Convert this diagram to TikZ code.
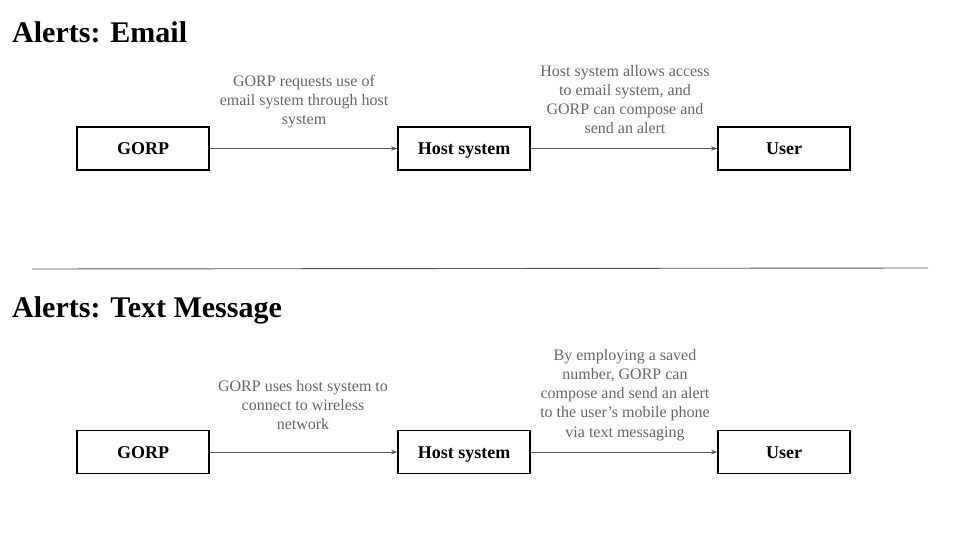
\documentclass[tikz,border=0pt]{standalone}
\usepackage{fontspec}
\setmainfont{Liberation Serif}
\usepackage{tikz}
\usepackage{xcolor}
\usetikzlibrary{arrows.meta}

\definecolor{notegray}{HTML}{666666}
\definecolor{linegray}{HTML}{555555}

\begin{document}
\begin{tikzpicture}[x=1pt,y=-1pt,
    block/.style={draw,line width=1.6pt,minimum width=132pt,minimum height=43pt,inner sep=0pt,text height=14pt,text depth=2pt,font=\fontsize{18}{20}\selectfont\bfseries},
    note/.style={anchor=north,align=center,inner sep=0pt,text=notegray,font=\fontsize{16}{19.2}\selectfont},
    flow/.style={draw=linegray,line width=0.9pt,-{Stealth[length=6pt,width=4.5pt]}},
    heading/.style={anchor=base west,inner sep=0pt,font=\fontsize{30}{32}\selectfont\bfseries}]
        \useasboundingbox (0,0) rectangle (960,540);
        % Email
        \draw (12,43) node[heading](title1) {Alerts: Email};
        \draw (143,148.5) node[block](gorp1) {GORP};
        \draw (464,148.5) node[block](host1) {Host system};
        \draw (784,148.5) node[block](user1) {User};
        \draw[flow] (gorp1.east) -- (host1.west);
        \draw[flow] (host1.east) -- (user1.west);
        \draw (304,75) node[note](req1) {GORP requests use of\\email system through host\\system};
        \draw (625,65) node[note](send1) {Host system allows access\\to email system, and\\GORP can compose and\\send an alert};
        % divider
        \coordinate (divl) at (32,269);
        \coordinate (divr) at (928,268);
        \draw[linegray,line width=0.9pt] (divl) -- (divr);
        % Text Message
        \draw (12,317) node[heading](title2) {Alerts: Text Message};
        \draw (143,452) node[block](gorp2) {GORP};
        \draw (464,452) node[block](host2) {Host system};
        \draw (784,452) node[block](user2) {User};
        \draw[flow] (gorp2.east) -- (host2.west);
        \draw[flow] (host2.east) -- (user2.west);
        \draw (303,380) node[note](req2) {GORP uses host system to\\connect to wireless\\network};
        \draw (625,349) node[note](send2) {By employing a saved\\number, GORP can\\compose and send an alert\\to the user’s mobile phone\\via text messaging};
    \end{tikzpicture}
\end{document}
